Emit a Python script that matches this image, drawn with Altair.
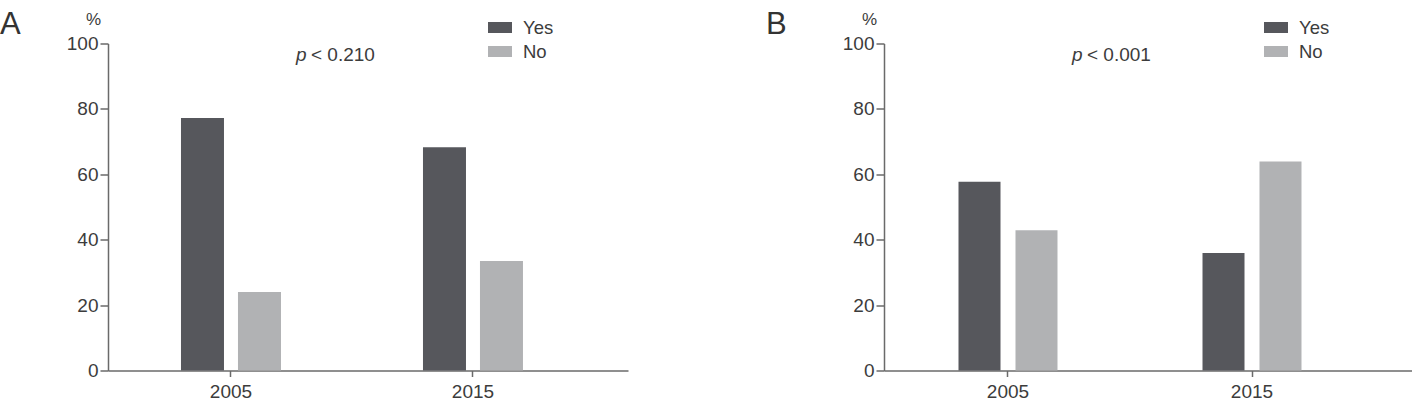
import altair as alt
import pandas as pd

years = ["2005", "2015"]
responses = ["Yes", "No"]
panel_a_yes = [77.2, 68.3]
panel_a_no = [24.0, 33.5]
panel_b_yes = [57.7, 35.9]
panel_b_no = [42.9, 63.9]
panel_labels = ["A", "B"]
p_texts = ["< 0.210", "< 0.001"]
y_ticks = [0, 20, 40, 60, 80, 100]

FONT = "Liberation Sans"
TEXT = "#3c3c3c"
AXIS = "#6a6a6a"
colors = ["#56575c", "#b1b2b4"]


def make_df(yes, no):
    rows = []
    for i, yr in enumerate(years):
        rows.append({"year": yr, "response": "Yes", "value": yes[i]})
        rows.append({"year": yr, "response": "No", "value": no[i]})
    return pd.DataFrame(rows)


def one(text):
    return alt.Chart(pd.DataFrame({"t": [text]}))


def panel(df, label, ptext, width, pi, po, align, pi2, label_x):
    bars = alt.Chart(df).mark_bar().encode(
        x=alt.X("year:N", sort=years,
                scale=alt.Scale(paddingInner=pi, paddingOuter=po, align=align),
                axis=alt.Axis(title=None, labelAngle=0, labelFont=FONT, labelFontSize=19,
                              labelColor=TEXT, labelPadding=6, tickSize=6, tickColor=AXIS,
                              tickWidth=1.5, domainColor=AXIS, domainWidth=1.5, grid=False)),
        xOffset=alt.XOffset("response:N", sort=responses,
                            scale=alt.Scale(paddingInner=pi2, paddingOuter=0)),
        y=alt.Y("value:Q", scale=alt.Scale(domain=[0, 100], nice=False),
                axis=alt.Axis(title=None, values=y_ticks, labelFont=FONT, labelFontSize=19,
                              labelColor=TEXT, labelPadding=2, tickSize=8, tickColor=AXIS,
                              tickWidth=1.5, domainColor=AXIS, domainWidth=1.5, grid=False)),
        color=alt.Color("response:N", sort=responses,
                        scale=alt.Scale(domain=responses, range=colors),
                        legend=alt.Legend(title=None, orient="none", legendX=380, legendY=-28,
                                          direction="vertical",
                                          symbolType="M-1,-0.46H1V0.46H-1Z", symbolSize=576,
                                          symbolStrokeWidth=0, symbolOpacity=1,
                                          labelFont=FONT, labelFontSize=18.5, labelColor=TEXT,
                                          labelOffset=11, rowPadding=2, padding=0)),
    )
    lab = one(label).mark_text(font=FONT, fontSize=31, color="#333333", align="left",
                               baseline="alphabetic").encode(
        text="t:N", x=alt.value(label_x), y=alt.value(-9.5))
    pct = one("%").mark_text(font=FONT, fontSize=17, color=TEXT, align="center",
                             baseline="middle").encode(
        text="t:N", x=alt.value(-14.5), y=alt.value(-24))
    pit = one("p").mark_text(font=FONT, fontSize=19, fontStyle="italic", color=TEXT,
                             align="left", baseline="alphabetic").encode(
        text="t:N", x=alt.value(188), y=alt.value(17))
    pv = one(ptext).mark_text(font=FONT, fontSize=19, color=TEXT, align="left",
                              baseline="alphabetic").encode(
        text="t:N", x=alt.value(203), y=alt.value(17))
    return alt.layer(bars, lab, pct, pit, pv).properties(width=width, height=327)


left = panel(make_df(panel_a_yes, panel_a_no), panel_labels[0], p_texts[0],
             520, 0.5868, 0.3678, 0.41, 0.2456, -108)
right = panel(make_df(panel_b_yes, panel_b_no), panel_labels[1], p_texts[1],
              528, 0.5943, 0.3791, 0.4027, 0.263, -118)

chart = alt.hconcat(left, right, spacing=138).resolve_scale(
    x="independent", y="independent", color="independent", xOffset="independent"
).resolve_legend(color="independent").properties(
    padding={"left": 0, "top": 8.5, "right": 0, "bottom": 0}
).configure_view(stroke=None)

chart.save("out.html", embed_options={"renderer": "svg", "actions": False})
